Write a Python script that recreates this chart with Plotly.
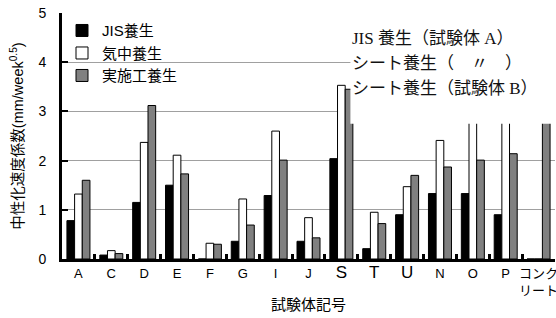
import plotly.graph_objects as go

categories = ["A", "C", "D", "E", "F", "G", "I", "J", "S", "T", "U", "N", "O", "P", "コンクリート"]
tick_labels = ["A", "C", "D", "E", "F", "G", "I", "J",
               "<span style='font-size:17px'>S</span>",
               "<span style='font-size:17px'>T</span>",
               "<span style='font-size:17px'>U</span>",
               "N", "O", "P", "コンク<br>リート"]
jis = [0.78, 0.08, 1.15, 1.50, 0.0, 0.36, 1.29, 0.36, 2.04, 0.21, 0.90, 1.33, 1.33, 0.90, 0.0]
kichu = [1.32, 0.17, 2.37, 2.11, 0.32, 1.22, 2.60, 0.84, 3.53, 0.95, 1.47, 2.41, 4.6, 4.4, 0.0]
jisseko = [1.60, 0.11, 3.12, 1.73, 0.30, 0.69, 2.01, 0.43, 3.45, 0.72, 1.70, 1.87, 2.01, 2.14, 4.8]
series_names = ["JIS養生", "気中養生", "実施工養生"]
note_lines = ["JIS 養生（試験体 A）", "シート養生（　〃　）", "シート養生（試験体 B）"]

JP = "Liberation Sans, Noto Sans CJK JP, sans-serif"
SERIF = "Liberation Serif, Noto Sans CJK JP, serif"

fig = go.Figure()
for name, vals, col, grp in zip(series_names, [jis, kichu, jisseko],
                                ["#000000", "#ffffff", "#808080"], ["g1", "g2", "g3"]):
    fig.add_trace(go.Bar(x=categories, y=vals, name=name, legendgroup=grp,
                         marker=dict(color=col, line=dict(color="#000000", width=1))))

fig.update_layout(
    width=556, height=318,
    margin=dict(l=62, r=1, t=13, b=59, autoexpand=False),
    plot_bgcolor="white", paper_bgcolor="white",
    barmode="group", bargap=0.3, bargroupgap=0,
    font=dict(family=JP, color="black", size=13),
    showlegend=True,
    legend=dict(x=0.0, y=0.995, xanchor="left", yanchor="top",
                bgcolor="rgba(0,0,0,0)", font=dict(size=15, family=JP),
                itemwidth=30, tracegroupgap=0, traceorder="grouped"),
    xaxis=dict(categoryorder="array", categoryarray=categories,
               tickvals=categories, ticktext=tick_labels, tickangle=0,
               showline=True, linecolor="black", linewidth=3,
               ticks="inside", tickson="boundaries", ticklen=5, tickwidth=3, tickcolor="black",
               showgrid=False, tickfont=dict(size=13, family=JP), automargin=False,
               title=dict(text="試験体記号", font=dict(size=15, family=JP), standoff=3)),
    yaxis=dict(range=[0, 5], tickvals=[0, 1, 2, 3, 4, 5],
               showline=True, linecolor="black", linewidth=3,
               ticks="inside", ticklen=6, tickwidth=2, tickcolor="black",
               showgrid=True, gridcolor="#a0a0a0", gridwidth=1,
               tickfont=dict(size=14, family=JP), ticklabelstandoff=10,
               zeroline=False, automargin=False,
               title=dict(text="中性化速度係数(mm/week<sup>0.5</sup>)",
                          font=dict(size=14.5, family=JP), standoff=12)),
)

# white note box covering the upper right of the plot
fig.add_shape(type="rect", xref="paper", yref="y", x0=0.585, x1=1.02, y0=2.75, y1=4.85,
              fillcolor="white", line=dict(width=0), layer="above")

for i, txt in enumerate(note_lines):
    fig.add_annotation(xref="paper", yref="paper", x=0.585, y=0.897 - i * 0.1015,
                       xanchor="left", yanchor="middle", text=txt, showarrow=False,
                       font=dict(family=SERIF, size=17, color="#111111"))

fig.write_html("out.html", config={"displayModeBar": False},
               post_script="document.body.style.margin='0';")
